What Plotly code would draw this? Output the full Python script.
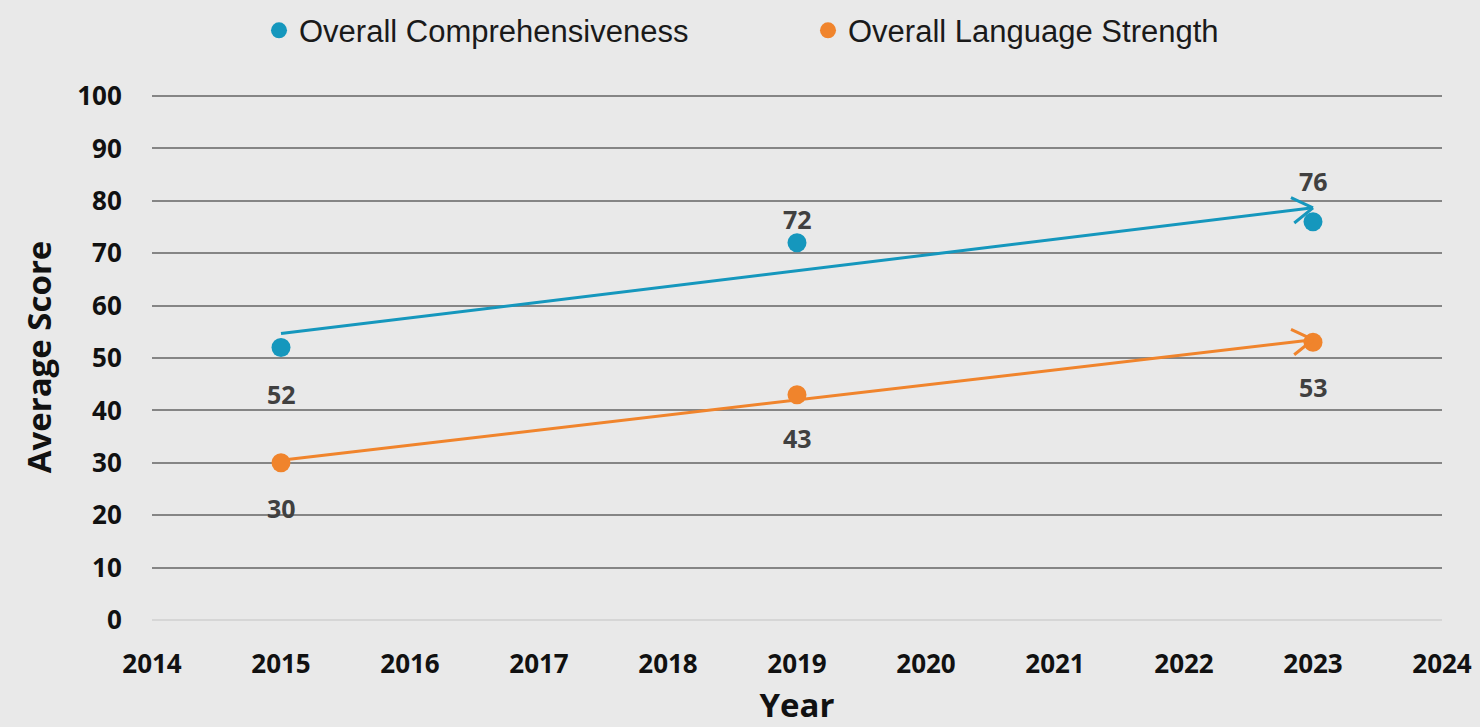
import math

import numpy as np
import plotly.graph_objects as go

years = [2015, 2019, 2023]
comprehensiveness = [52, 72, 76]
language_strength = [30, 43, 53]
series_names = ["Overall Comprehensiveness", "Overall Language Strength"]
y_ticks = [0, 10, 20, 30, 40, 50, 60, 70, 80, 90, 100]
x_ticks = list(range(2014, 2025))

BLUE = "#1597BD"
ORANGE = "#F0842C"
BG = "#E9E9E9"
LABEL_GREY = "#404040"

W, H = 1480, 727
M = dict(l=152, r=38, t=94, b=107)
X_RANGE = [2014, 2024]
Y_RANGE = [0, 100.4]
px_per_x = (W - M["l"] - M["r"]) / (X_RANGE[1] - X_RANGE[0])
px_per_y = (H - M["t"] - M["b"]) / (Y_RANGE[1] - Y_RANGE[0])

fig = go.Figure()
annotations = []

series = [
    (series_names[0], comprehensiveness, BLUE, [-46, 24, 41]),
    (series_names[1], language_strength, ORANGE, [-45, -43, -45]),
]

for name, vals, color, shifts in series:
    # linear trend line, like the spreadsheet's trendline
    slope, icpt = np.polyfit(years, vals, 1)
    tx = [years[0], years[-1]]
    ty = [slope * x + icpt for x in tx]
    fig.add_trace(go.Scatter(x=tx, y=ty, mode="lines", line=dict(color=color, width=3),
                             showlegend=False, hoverinfo="skip"))
    fig.add_trace(go.Scatter(x=years, y=vals, mode="markers", name=name,
                             marker=dict(color=color, size=19)))

    # open chevron at the end of the trend line
    back = math.atan2(slope * px_per_y, -px_per_x)  # screen coords, y down
    for d in (-1, 1):
        a = back + d * math.radians(32)
        annotations.append(dict(x=tx[-1], y=ty[-1], xref="x", yref="y", text="",
                                showarrow=True, arrowhead=0, arrowwidth=3, arrowcolor=color,
                                ax=26 * math.cos(a), ay=26 * math.sin(a), standoff=0))

    for x, v, s in zip(years, vals, shifts):
        annotations.append(dict(x=x, y=v, xref="x", yref="y", text=str(v), showarrow=False,
                                yshift=s, font=dict(family="Open Sans", size=25, color=LABEL_GREY,
                                                    weight="bold")))

tick_font = dict(family="Open Sans", size=26, color="#111111", weight="bold")
title_font = dict(family="Open Sans", size=33, color="#111111", weight="bold")

fig.update_layout(
    width=W, height=H,
    margin=M,
    paper_bgcolor=BG, plot_bgcolor=BG,
    annotations=annotations,
    legend=dict(orientation="h", xref="container", yref="container", x=0.175, xanchor="left",
                y=0.995, yanchor="top", entrywidth=504,
                font=dict(family="Liberation Sans", size=31, color="#1a1a1a")),
    xaxis=dict(range=X_RANGE, tickvals=x_ticks, showgrid=False, zeroline=False, showline=False,
               automargin=False,
               tickfont=tick_font, ticks="outside", ticklen=21, tickcolor=BG,
               title=dict(text="Year", standoff=39, font=title_font)),
    yaxis=dict(range=Y_RANGE, tickvals=y_ticks, showgrid=True, gridcolor="#858585", gridwidth=1.6,
               zeroline=True, zerolinecolor="#D6D6D6", zerolinewidth=1.6, showline=False,
               automargin=False,
               tickfont=tick_font, ticks="outside", ticklen=24, tickcolor=BG,
               title=dict(text="Average Score", standoff=15, font=title_font)),
)

fig.write_html("out.html", config={"displayModeBar": False},
               post_script="document.body.style.margin='0';")
